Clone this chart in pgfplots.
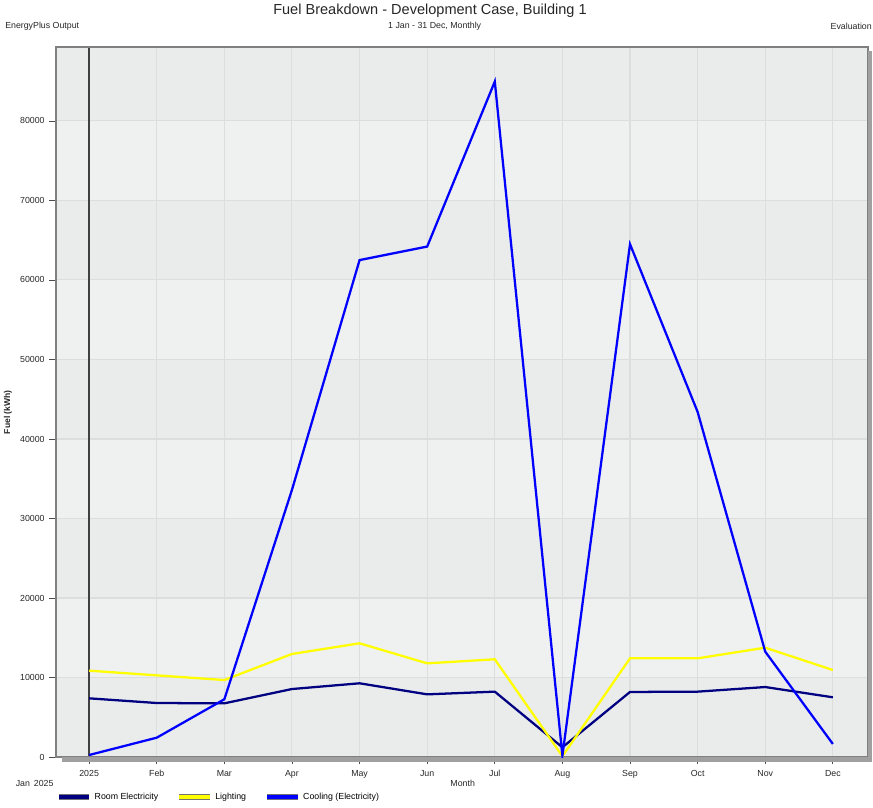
\documentclass[border=0pt]{standalone}
\usepackage{pgfplots}
\pgfplotsset{compat=1.18}
\usepackage{fontspec}
\setmainfont{Liberation Sans}
\definecolor{bandD}{HTML}{EAEBEB}
\definecolor{bandL}{HTML}{EFF0F0}
\definecolor{gridc}{HTML}{DCDDDD}
\definecolor{roomc}{HTML}{000080}
\definecolor{lightc}{HTML}{FFFF00}
\definecolor{coolc}{HTML}{0000FF}
\definecolor{shadow}{HTML}{A0A0A0}
\begin{document}
\begin{tikzpicture}
\path (0,0) rectangle (654.75pt,605.25pt);
% shadow
\fill[shadow] (651pt,33.75pt) rectangle (654pt,567pt);
\fill[shadow] (46.5pt,33.75pt) rectangle (654pt,37.5pt);
\begin{axis}[
  set layers,
  at={(42pt,37.5pt)}, anchor=south west,
  scale only axis, width=609pt, height=532.5pt,
  xmin=-0.49, xmax=11.52, ymin=0, ymax=89300,
  xtick={0,...,11},
  xticklabels={2025,Feb,Mar,Apr,May,Jun,Jul,Aug,Sep,Oct,Nov,Dec},
  ytick={0,10000,...,80000},
  xtick pos=bottom, ytick pos=left,
  scaled y ticks=false,
  yticklabel={\pgfmathprintnumber[fixed,precision=0,1000 sep={}]{\tick}},
  /pgf/number format/assume math mode=true,
  tick label style={font=\fontsize{6.6}{7}\selectfont, text=black!85},
  xticklabel style={text height=5pt, text depth=1.5pt, yshift=-1pt},
  tick align=outside,
  major tick length=5pt,
  tick style={black!70, line width=0.6pt},
  xmajorgrids, ymajorgrids,
  major grid style={gridc, line width=0.8pt},
  axis line style={black!50, line width=0.8pt},
  axis background/.style={fill=bandD},
  extra x ticks={0}, extra x tick labels={},
  extra x tick style={grid=major, major grid style={black!75, line width=1pt}, tick style={black!70}},
  legend columns=3,
  legend style={at={(0.0,-0.0563)}, anchor=west, draw=none, fill=none,
    font=\fontsize{6.6}{7}\selectfont, inner sep=0pt,
    /tikz/every even column/.append style={column sep=12pt}},
  legend image code/.code={\draw[black!55,line width=3.8pt] (0pt,0pt) -- (23pt,0pt);
     \draw[#1,line width=2.8pt] (0pt,0pt) -- (23pt,0pt);},
]
\addplot[on layer=axis background, fill=bandL, draw=none, forget plot] coordinates {(-0.49,10000) (11.52,10000) (11.52,20000) (-0.49,20000)} -- cycle;
\addplot[on layer=axis background, fill=bandL, draw=none, forget plot] coordinates {(-0.49,30000) (11.52,30000) (11.52,40000) (-0.49,40000)} -- cycle;
\addplot[on layer=axis background, fill=bandL, draw=none, forget plot] coordinates {(-0.49,50000) (11.52,50000) (11.52,60000) (-0.49,60000)} -- cycle;
\addplot[on layer=axis background, fill=bandL, draw=none, forget plot] coordinates {(-0.49,70000) (11.52,70000) (11.52,80000) (-0.49,80000)} -- cycle;
\addplot[roomc, line width=1.7pt] coordinates {
(0,7380) (1,6790) (2,6750) (3,8550) (4,9270) (5,7880) (6,8220) (7,1220) (8,8180) (9,8220) (10,8800) (11,7510)};
\addlegendentry{Room Electricity}
\addplot[lightc, line width=1.7pt] coordinates {
(0,10860) (1,10270) (2,9680) (3,12960) (4,14300) (5,11780) (6,12290) (7,100) (8,12410) (9,12410) (10,13750) (11,10940)};
\addlegendentry{Lighting}
\addplot[coolc, line width=1.7pt] coordinates {
(0,250) (1,2430) (2,7260) (3,33600) (4,62500) (5,64200) (6,84950) (7,150) (8,64500) (9,43400) (10,13250) (11,1640)};
\addlegendentry{Cooling (Electricity)}
\end{axis}
% texts
\node[font=\fontsize{10.9}{12}\selectfont, text=black!85, inner sep=0pt] at (322.5pt,597pt) {Fuel Breakdown - Development Case, Building 1};
\node[font=\fontsize{6.6}{7}\selectfont, text=black!85, inner sep=0pt] at (326pt,585.75pt) {1 Jan - 31 Dec, Monthly};
\node[font=\fontsize{6.6}{7}\selectfont, text=black!85, anchor=west, inner sep=0pt] at (3.75pt,585.75pt) {EnergyPlus Output};
\node[font=\fontsize{6.6}{7}\selectfont, text=black!85, anchor=east, inner sep=0pt] at (654pt,585.75pt) {Evaluation};
\node[font=\bfseries\fontsize{6.4}{7}\selectfont, text=black!85, rotate=90, inner sep=0pt] at (6pt,296pt) {Fuel (kWh)};
\node[font=\fontsize{6.6}{7}\selectfont, text=black!85, inner sep=0pt] at (347pt,18pt) {Month};
\node[font=\fontsize{6.6}{7}\selectfont, text=black!85, inner sep=0pt] at (26pt,18pt) {Jan\, 2025};
\end{tikzpicture}
\end{document}
